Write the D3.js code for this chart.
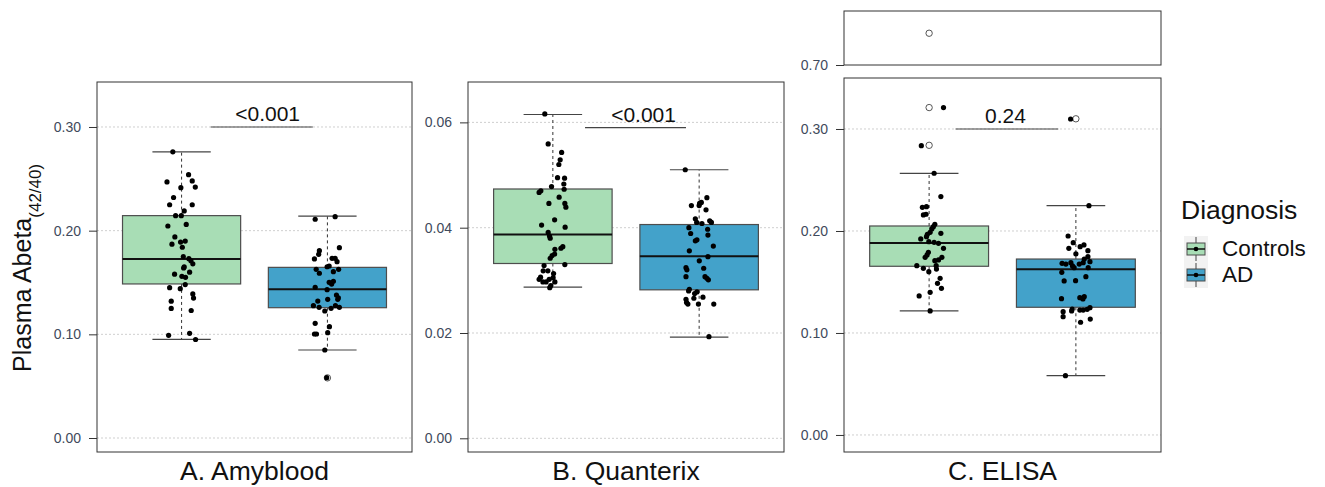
<!DOCTYPE html>
<html><head><meta charset="utf-8">
<script src="https://cdn.jsdelivr.net/npm/d3@7"></script>
<style>body{margin:0;background:#fff}svg{display:block;font-family:Arial,"Liberation Sans",sans-serif}</style>
</head><body><svg id="c" width="1325" height="487"></svg>
<script>
// ---------------- DATA ----------------
const categories = ["Controls", "AD"];
const panelTitles = ["A. Amyblood", "B. Quanterix", "C. ELISA"];
const fillColors = ["#a8ddb5", "#43a2ca"];
const yTitleMain = "Plasma Abeta";
const yTitleSub = "(42/40)";
const legendTitle = "Diagnosis";

// A. Amyblood
const amyControls = [0.276,0.254,0.248,0.247,0.242,0.2415,0.232,0.225,0.225,0.219,0.2145,0.2145,0.2045,0.206,0.194,0.190,0.189,0.187,0.184,0.175,0.173,0.171,0.168,0.165,0.160,0.164,0.158,0.156,0.155,0.148,0.145,0.144,0.139,0.135,0.132,0.125,0.123,0.099,0.101,0.095];
const amyControlsJit = [-0.60,0.48,0.73,-1.0,0.94,-0.05,-0.55,0.73,-0.82,0.18,-0.41,-0.02,-0.94,0.32,-0.46,0.25,-0.07,-0.66,0.05,0.12,0.50,0.64,0.77,0.18,0.55,0.14,-0.48,0.02,0.27,0.25,-0.82,-0.09,0.77,0.82,-0.71,-0.71,0.66,-0.89,0.55,0.96];
const amyAD = [0.211,0.2135,0.1836,0.1807,0.1772,0.1727,0.1733,0.1733,0.1701,0.1652,0.1659,0.1627,0.1627,0.1604,0.1589,0.1502,0.1485,0.1512,0.1454,0.1431,0.1379,0.1353,0.1338,0.1321,0.1338,0.1276,0.1261,0.1251,0.1276,0.1261,0.1225,0.1106,0.1074,0.1003,0.1003,0.1016,0.0849,0.0582];
const amyADJit = [-0.84,0.53,0.82,-0.55,-0.60,-0.89,0.32,0.53,0.66,-0.02,0.12,-0.77,0.77,0.41,-0.55,0.12,0.29,0.41,-0.84,-0.02,0.62,0.75,0.71,-0.66,0.02,-0.96,-0.57,0.25,0.55,0.82,-0.18,-0.84,0.14,-0.89,-0.75,0.02,-0.18,-0.05];
const amyBoxControls = [0.0952,0.1486,0.1727,0.2145,0.276];   // lower, q1, median, q3, upper
const amyBoxAD = [0.0849,0.1257,0.1434,0.1646,0.214];
const amyOutControls = [];
const amyOutAD = [0.058];
const amyTicks = [0.00,0.10,0.20,0.30];

// B. Quanterix
const qtxControls = [0.0616,0.0559,0.0543,0.0529,0.0520,0.0495,0.0494,0.0483,0.0473,0.0478,0.0470,0.0467,0.0458,0.0446,0.0446,0.0439,0.0415,0.0405,0.0401,0.0391,0.0384,0.0380,0.0364,0.0361,0.0359,0.0350,0.0347,0.0342,0.0330,0.0328,0.0318,0.0318,0.0313,0.0306,0.0302,0.0302,0.0305,0.0297,0.0297,0.0297,0.0290,0.0286];
const qtxControlsJit = [-0.55,-0.32,0.60,0.50,0.41,0.32,0.80,0.75,0.77,-0.09,-0.82,-0.94,0.43,-0.27,0.82,0.89,0.12,-0.77,0.84,-0.32,-0.23,-0.18,0.68,0.55,0.14,0.12,-0.05,-0.18,0.82,-0.60,-0.66,-0.34,0.05,-0.84,-0.94,-0.25,0.02,-0.68,-0.46,0.14,-0.14,-0.21];
const qtxAD = [0.0510,0.0457,0.0448,0.0442,0.0442,0.0446,0.0434,0.0417,0.0410,0.0408,0.0413,0.0410,0.0400,0.0397,0.0389,0.0386,0.0377,0.0375,0.0365,0.0356,0.0345,0.0337,0.0324,0.0320,0.0323,0.0307,0.0307,0.0304,0.0301,0.0283,0.0280,0.0278,0.0275,0.0264,0.0266,0.0268,0.0258,0.0255,0.0255,0.0255,0.0193];
const qtxADJit = [-0.95,0.53,0.15,-0.53,0,0.03,0.47,-0.26,-0.17,0.19,0.72,0.84,-0.70,0.58,-0.58,0.60,-0.15,-0.26,0.97,-0.67,0.60,0.01,-0.90,-0.84,0.31,-0.90,0.40,0.53,0.63,-0.67,-0.72,-0.15,-0.31,-0.90,-0.36,0.26,-0.86,-0.77,-0.05,1.0,0.67];
const qtxBoxControls = [0.0287,0.0332,0.0387,0.04735,0.0615];
const qtxBoxAD = [0.0192,0.0282,0.0346,0.0406,0.051];
const qtxOutControls = [];
const qtxOutAD = [];
const qtxTicks = [0.00,0.02,0.04,0.06];

// C. ELISA
const elisaControls = [0.321,0.2836,0.2566,0.2337,0.2238,0.2232,0.2157,0.2164,0.2066,0.2042,0.2020,0.1987,0.1968,0.1977,0.1922,0.1944,0.1895,0.1889,0.1879,0.1830,0.1791,0.1765,0.1742,0.1742,0.1716,0.1709,0.1660,0.1634,0.1660,0.1627,0.1601,0.1536,0.1487,0.1438,0.1363,0.1399,0.1216];
const elisaControlsJit = [0.98,-0.53,0.34,0.80,-0.18,-0.46,-0.39,-0.21,0.39,0.29,0.18,0.07,-0.12,0.80,-0.57,-0.18,-0.02,0.34,0.64,0.98,-0.05,-0.14,-0.27,0.87,0.64,0.39,-0.84,-0.39,0.48,0.50,-0.02,0.75,0.57,0.84,-0.68,0.07,0.07];
const elisaAD = [0.3098,0.2248,0.1951,0.1885,0.1863,0.1846,0.1830,0.1807,0.1775,0.1725,0.1748,0.1699,0.1683,0.1676,0.1689,0.1657,0.1676,0.1689,0.1640,0.1640,0.1595,0.1552,0.1510,0.1513,0.1336,0.1346,0.1356,0.1333,0.1235,0.1216,0.1225,0.1225,0.1232,0.1248,0.1209,0.1160,0.1105,0.1136,0.0581];
const elisaADJit = [-0.36,0.89,-0.53,-0.18,0.55,0.29,-0.48,0.82,0,0.57,0.82,0.96,-0.94,-0.68,-0.34,-0.23,0.23,0.50,0.84,-0.12,-0.96,0.68,-0.80,-0.02,-0.98,0.27,0.57,0.48,-0.25,-0.29,0.27,0.50,0.77,0.96,-0.87,-0.87,0.32,0.98,-0.71];
const elisaBoxControls = [0.1216,0.1654,0.1882,0.2049,0.2565];
const elisaBoxAD = [0.0582,0.1252,0.1624,0.1725,0.2248];
const elisaOutControls = [0.321,0.284,0.80];
const elisaOutAD = [0.31];
const elisaTicks = [0.00,0.10,0.20,0.30];
const elisaTopTicks = [0.70];

// significance annotations
const pLabels = ["<0.001", "<0.001", "0.24"];
const sigY = [0.30, 0.059, 0.30];
const sigFrom = [1.2, 1.22, 1.18];
const sigTo = [1.9, 1.91, 1.88];
const sigLabelAt = [1.59, 1.62, 1.52];

// ---------------- LAYOUT ----------------
const svg = d3.select("#c");
const tickColor = "#333333", labelColor = "#3f4a5c";
const jitterWidth = 0.1, boxWidth = 0.81, capWidth = 0.40;

const panels = [
  {x0: 97, x1: 412, y0: 82, y1: 452, ydom: [-0.0135, 0.3434], ticks: amyTicks,
   groups: [[amyControls, amyControlsJit, amyBoxControls, amyOutControls],[amyAD, amyADJit, amyBoxAD, amyOutAD]]},
  {x0: 468, x1: 784, y0: 82, y1: 452, ydom: [-0.0026, 0.06767], ticks: qtxTicks,
   groups: [[qtxControls, qtxControlsJit, qtxBoxControls, qtxOutControls],[qtxAD, qtxADJit, qtxBoxAD, qtxOutAD]]},
  {x0: 844, x1: 1161, y0: 78, y1: 452, ydom: [-0.0167, 0.35], ticks: elisaTicks,
   top: {y0: 11, y1: 65, ydom: [0.70, 0.87], ticks: elisaTopTicks},
   groups: [[elisaControls, elisaControlsJit, elisaBoxControls, elisaOutControls],[elisaAD, elisaADJit, elisaBoxAD, elisaOutAD]]}
];

function styleAxis(ax) {
  ax.select(".domain").remove();
  ax.selectAll("line").attr("stroke", tickColor);
  ax.selectAll("text").attr("fill", labelColor).attr("font-size", 14).attr("font-family", "Arial, 'Liberation Sans', sans-serif");
}

panels.forEach((p, pi) => {
  const x = d3.scaleLinear().domain([0.42, 2.58]).range([p.x0, p.x1]);
  const y = d3.scaleLinear().domain(p.ydom).range([p.y1, p.y0]);
  let yTop = null;
  const g = svg.append("g");

  g.append("rect").attr("x", p.x0).attr("y", p.y0).attr("width", p.x1 - p.x0).attr("height", p.y1 - p.y0).attr("fill", "#fff");
  g.selectAll(".grid").data(p.ticks).join("line")
    .attr("x1", p.x0).attr("x2", p.x1).attr("y1", d => y(d)).attr("y2", d => y(d))
    .attr("stroke", "#cfcfcf").attr("stroke-width", 1).attr("stroke-dasharray", "2,2");

  styleAxis(g.append("g").attr("transform", `translate(${p.x0},0)`)
    .call(d3.axisLeft(y).tickValues(p.ticks).tickFormat(d3.format(".2f")).tickSize(8).tickPadding(8)));

  if (p.top) {
    yTop = d3.scaleLinear().domain(p.top.ydom).range([p.top.y1, p.top.y0]);
    g.append("rect").attr("x", p.x0).attr("y", p.top.y0).attr("width", p.x1 - p.x0).attr("height", p.top.y1 - p.top.y0)
      .attr("fill", "#fff").attr("stroke", "#333").attr("stroke-width", 1);
    styleAxis(g.append("g").attr("transform", `translate(${p.x0},0)`)
      .call(d3.axisLeft(yTop).tickValues(p.top.ticks).tickFormat(d3.format(".2f")).tickSize(8).tickPadding(8)));
  }

  p.groups.forEach((grp, gi) => {
    const [vals, jit, box, outs] = grp;
    const c = gi + 1;
    const [lo, q1, med, q3, hi] = box;
    g.append("line").attr("x1", x(c)).attr("x2", x(c)).attr("y1", y(q3)).attr("y2", y(hi))
      .attr("stroke", "#333").attr("stroke-dasharray", "3,3");
    g.append("line").attr("x1", x(c)).attr("x2", x(c)).attr("y1", y(q1)).attr("y2", y(lo))
      .attr("stroke", "#333").attr("stroke-dasharray", "3,3");
    [lo, hi].forEach(v => g.append("line").attr("x1", x(c - capWidth / 2)).attr("x2", x(c + capWidth / 2))
      .attr("y1", y(v)).attr("y2", y(v)).attr("stroke", "#444").attr("stroke-width", 1.2));
    g.append("rect").attr("x", x(c - boxWidth / 2)).attr("width", x(c + boxWidth / 2) - x(c - boxWidth / 2))
      .attr("y", y(q3)).attr("height", y(q1) - y(q3))
      .attr("fill", fillColors[gi]).attr("stroke", "#4d4d4d").attr("stroke-width", 1.2);
    g.append("line").attr("x1", x(c - boxWidth / 2)).attr("x2", x(c + boxWidth / 2))
      .attr("y1", y(med)).attr("y2", y(med)).attr("stroke", "#111").attr("stroke-width", 2);
    outs.forEach(v => {
      const yy = (yTop && v > p.ydom[1]) ? yTop(v) : y(v);
      g.append("circle").attr("cx", x(c)).attr("cy", yy).attr("r", 3.2)
        .attr("fill", "#fff").attr("stroke", "#555").attr("stroke-width", 1);
    });
    g.selectAll(null).data(vals.map((v, i) => [v, jit[i]])).join("circle")
      .attr("cx", d => x(c + d[1] * jitterWidth)).attr("cy", d => y(d[0])).attr("r", 2.6).attr("fill", "#000");
  });

  g.append("line").attr("x1", x(sigFrom[pi])).attr("x2", x(sigTo[pi])).attr("y1", y(sigY[pi])).attr("y2", y(sigY[pi]))
    .attr("stroke", "#444").attr("stroke-width", 1.2);
  g.append("text").attr("x", x(sigLabelAt[pi])).attr("y", y(sigY[pi]) - 6).attr("text-anchor", "middle")
    .attr("font-size", 21).attr("fill", "#111").text(pLabels[pi]);

  g.append("rect").attr("x", p.x0).attr("y", p.y0).attr("width", p.x1 - p.x0).attr("height", p.y1 - p.y0)
    .attr("fill", "none").attr("stroke", "#333").attr("stroke-width", 1);

  svg.append("text").attr("x", (p.x0 + p.x1) / 2).attr("y", 480).attr("text-anchor", "middle")
    .attr("font-size", 26.5).attr("fill", "#111").text(panelTitles[pi]);
});

const yt = svg.append("text").attr("transform", "translate(31,372) rotate(-90)")
  .attr("font-size", 25).attr("fill", "#111");
yt.append("tspan").text(yTitleMain);
yt.append("tspan").attr("font-size", 17).attr("dy", 10).text(yTitleSub);

const lg = svg.append("g");
lg.append("text").attr("x", 1181).attr("y", 219).attr("font-size", 26.5).attr("fill", "#111").text(legendTitle);
categories.forEach((cat, i) => {
  const ky = 236 + i * 26, kx = 1184;
  lg.append("rect").attr("x", kx).attr("y", ky).attr("width", 24).attr("height", 26).attr("fill", "#f2f2f2");
  lg.append("line").attr("x1", kx + 12).attr("x2", kx + 12).attr("y1", ky + 1).attr("y2", ky + 25).attr("stroke", "#444");
  lg.append("rect").attr("x", kx + 3).attr("y", ky + 7).attr("width", 18).attr("height", 12)
    .attr("fill", fillColors[i]).attr("stroke", "#4d4d4d").attr("stroke-width", 1);
  lg.append("line").attr("x1", kx + 3).attr("x2", kx + 21).attr("y1", ky + 13).attr("y2", ky + 13).attr("stroke", "#111").attr("stroke-width", 1.5);
  lg.append("circle").attr("cx", kx + 12).attr("cy", ky + 13).attr("r", 2.3).attr("fill", "#000");
  lg.append("text").attr("x", 1222).attr("y", ky + 20).attr("font-size", 22.5).attr("fill", "#111").text(cat);
});
</script></body></html>
